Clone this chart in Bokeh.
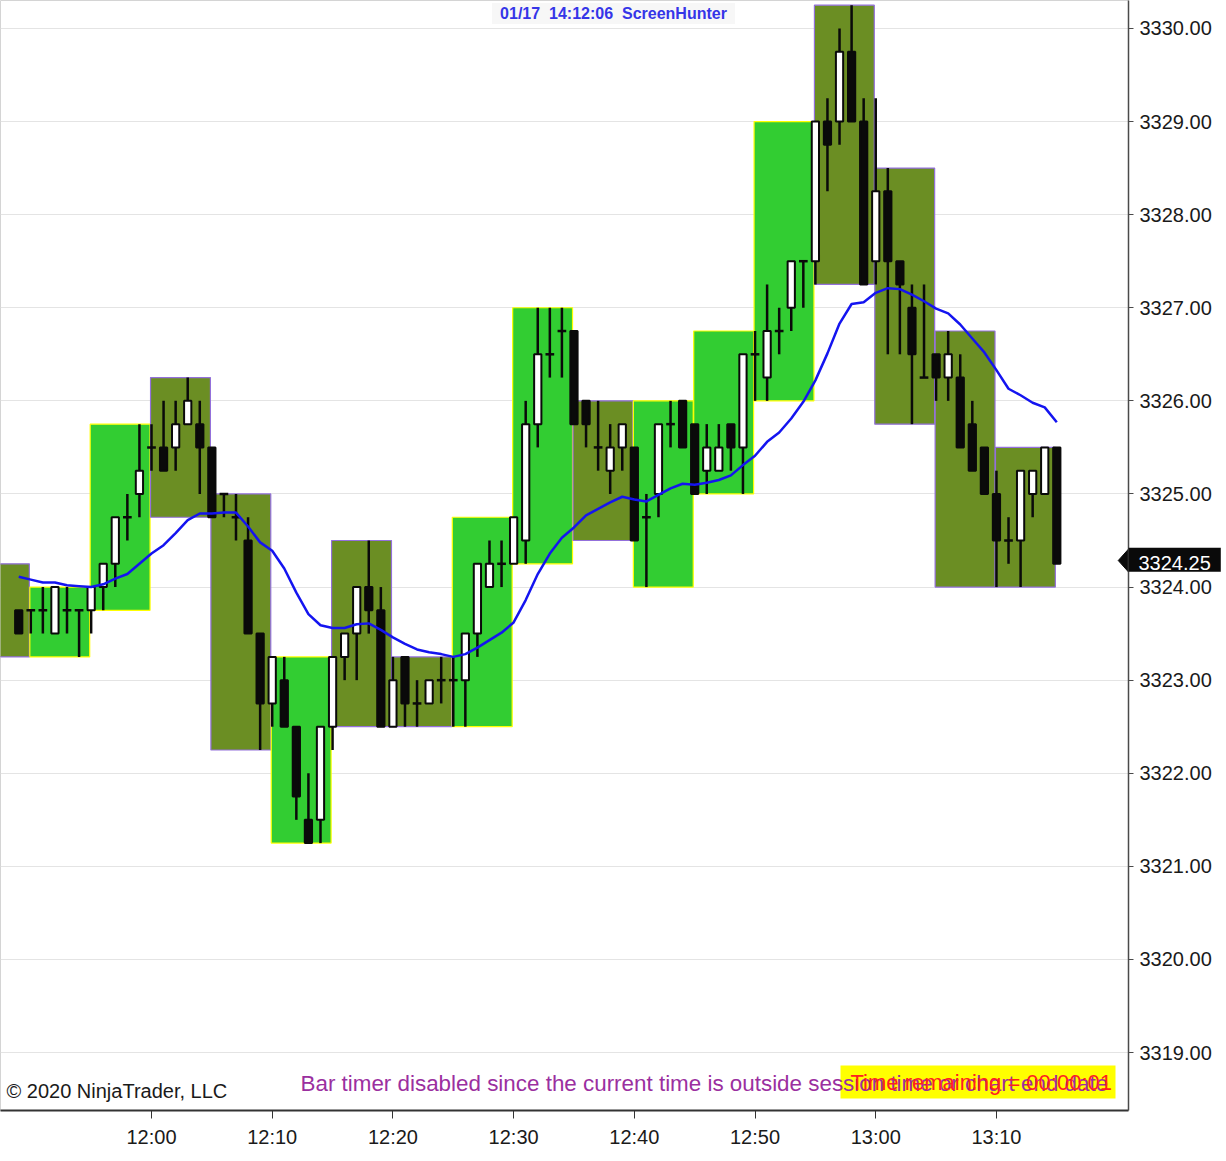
from bokeh.plotting import figure
from bokeh.models import FixedTicker, PrintfTickFormatter, Label, BoxAnnotation, Range1d
from bokeh.embed import file_html
from bokeh.resources import INLINE

# ---------------- data (1-minute candles) ----------------
times = ["11:49", "11:50", "11:51", "11:52", "11:53", "11:54", "11:55", "11:56", "11:57", "11:58", "11:59",
         "12:00", "12:01", "12:02", "12:03", "12:04", "12:05", "12:06", "12:07", "12:08", "12:09",
         "12:10", "12:11", "12:12", "12:13", "12:14", "12:15", "12:16", "12:17", "12:18", "12:19",
         "12:20", "12:21", "12:22", "12:23", "12:24", "12:25", "12:26", "12:27", "12:28", "12:29",
         "12:30", "12:31", "12:32", "12:33", "12:34", "12:35", "12:36", "12:37", "12:38", "12:39",
         "12:40", "12:41", "12:42", "12:43", "12:44", "12:45", "12:46", "12:47", "12:48", "12:49",
         "12:50", "12:51", "12:52", "12:53", "12:54", "12:55", "12:56", "12:57", "12:58", "12:59",
         "13:00", "13:01", "13:02", "13:03", "13:04", "13:05", "13:06", "13:07", "13:08", "13:09",
         "13:10", "13:11", "13:12", "13:13", "13:14", "13:15"]

opens = [3323.75, 3323.75, 3323.75, 3323.5, 3323.75, 3323.75, 3323.75, 3324.0, 3324.25, 3324.75, 3325.0,
         3325.5, 3325.5, 3325.5, 3325.75, 3325.75, 3325.5, 3325.0, 3324.75, 3324.5, 3323.5,
         3322.75, 3323.0, 3322.5, 3321.5, 3321.5, 3322.5, 3323.25, 3323.5, 3324.0, 3323.75,
         3322.5, 3323.25, 3322.75, 3322.75, 3323.0, 3323.0, 3323.0, 3323.5, 3324.0, 3324.25,
         3324.25, 3324.5, 3325.75, 3326.5, 3326.75, 3326.75, 3326.0, 3325.5, 3325.25, 3325.5,
         3325.5, 3324.75, 3325.0, 3325.75, 3326.0, 3325.75, 3325.25, 3325.25, 3325.75, 3325.5,
         3326.5, 3326.25, 3326.75, 3327.0, 3327.5, 3327.5, 3329.0, 3329.0, 3329.75, 3329.0,
         3327.5, 3328.25, 3327.5, 3327.0, 3326.25, 3326.5, 3326.25, 3326.25, 3325.75, 3325.5,
         3325.0, 3324.5, 3324.5, 3325.0, 3325.0, 3325.5]

highs = [3323.75, 3323.75, 3324.0, 3324.0, 3324.0, 3323.75, 3324.0, 3324.25, 3324.75, 3325.0, 3325.75,
         3325.75, 3326.0, 3326.0, 3326.25, 3326.0, 3325.5, 3325.0, 3325.0, 3324.75, 3323.5,
         3323.25, 3323.25, 3322.5, 3322.0, 3322.5, 3323.25, 3323.5, 3324.0, 3324.5, 3324.0,
         3323.25, 3323.25, 3323.0, 3323.0, 3323.25, 3323.25, 3323.5, 3324.25, 3324.5, 3324.5,
         3324.75, 3326.0, 3327.0, 3327.0, 3327.0, 3326.75, 3326.0, 3326.0, 3325.75, 3325.75,
         3325.5, 3325.0, 3325.75, 3326.0, 3326.0, 3325.75, 3325.75, 3325.75, 3325.75, 3326.5,
         3326.75, 3327.25, 3327.0, 3327.5, 3327.5, 3329.0, 3329.25, 3330.0, 3330.25, 3329.25,
         3329.25, 3328.5, 3327.5, 3327.25, 3327.25, 3326.5, 3326.75, 3326.5, 3326.0, 3325.5,
         3325.25, 3324.75, 3325.25, 3325.25, 3325.5, 3325.5]

lows = [3323.5, 3323.5, 3323.5, 3323.5, 3323.5, 3323.25, 3323.5, 3323.75, 3324.0, 3324.5, 3324.75,
        3325.25, 3325.25, 3325.25, 3325.75, 3325.0, 3324.75, 3324.75, 3324.5, 3323.5, 3322.25,
        3322.5, 3322.5, 3321.5, 3321.25, 3321.25, 3322.25, 3323.0, 3323.0, 3323.5, 3322.5,
        3322.5, 3322.5, 3322.5, 3322.75, 3322.75, 3322.5, 3322.5, 3323.25, 3324.0, 3324.0,
        3324.25, 3324.25, 3325.5, 3326.25, 3326.25, 3325.75, 3325.5, 3325.25, 3325.0, 3325.25,
        3324.5, 3324.0, 3324.75, 3325.5, 3325.5, 3325.0, 3325.0, 3325.25, 3325.25, 3325.0,
        3326.0, 3326.0, 3326.5, 3326.75, 3327.0, 3327.25, 3328.25, 3328.75, 3329.0, 3327.25,
        3327.25, 3326.5, 3326.5, 3325.75, 3326.25, 3326.0, 3326.0, 3325.5, 3325.25, 3325.0,
        3324.0, 3324.25, 3324.0, 3324.75, 3325.0, 3324.25]

closes = [3323.5, 3323.75, 3323.75, 3324.0, 3323.75, 3323.75, 3324.0, 3324.25, 3324.75, 3324.75, 3325.25,
          3325.5, 3325.25, 3325.75, 3326.0, 3325.5, 3324.75, 3325.0, 3324.75, 3323.5, 3322.75,
          3323.25, 3322.5, 3321.75, 3321.25, 3322.5, 3323.25, 3323.5, 3324.0, 3323.75, 3322.5,
          3323.0, 3322.75, 3322.75, 3323.0, 3323.0, 3323.0, 3323.5, 3324.25, 3324.25, 3324.25,
          3324.75, 3325.75, 3326.5, 3326.5, 3326.75, 3325.75, 3325.75, 3325.5, 3325.5, 3325.75,
          3324.5, 3324.75, 3325.75, 3325.75, 3325.5, 3325.0, 3325.5, 3325.5, 3325.5, 3326.5,
          3326.5, 3326.75, 3326.75, 3327.5, 3327.5, 3329.0, 3328.75, 3329.75, 3329.0, 3327.25,
          3328.25, 3327.5, 3327.25, 3326.5, 3326.25, 3326.25, 3326.5, 3325.5, 3325.25, 3325.0,
          3324.5, 3324.5, 3325.25, 3325.25, 3325.5, 3324.25]

sma = [3324.11, 3324.08, 3324.05, 3324.05, 3324.02, 3324.01, 3324.00, 3324.03, 3324.09, 3324.14, 3324.25,
       3324.36, 3324.45, 3324.58, 3324.72, 3324.79, 3324.79, 3324.80, 3324.80, 3324.65, 3324.48,
       3324.39, 3324.20, 3323.94, 3323.71, 3323.59, 3323.56, 3323.56, 3323.60, 3323.61, 3323.54,
       3323.46, 3323.39, 3323.33, 3323.30, 3323.28, 3323.25, 3323.28, 3323.35, 3323.43, 3323.51,
       3323.62, 3323.86, 3324.14, 3324.36, 3324.53, 3324.64, 3324.77, 3324.84, 3324.91, 3324.97,
       3324.94, 3324.92, 3324.99, 3325.06, 3325.11, 3325.10, 3325.12, 3325.15, 3325.20, 3325.31,
       3325.41, 3325.56, 3325.66, 3325.81, 3325.99, 3326.22, 3326.51, 3326.83, 3327.04, 3327.06,
       3327.16, 3327.21, 3327.20, 3327.14, 3327.07, 3326.99, 3326.94, 3326.82, 3326.67, 3326.52,
       3326.33, 3326.13, 3326.06, 3325.98, 3325.93, 3325.77]

# ---------------- data (5-minute bars drawn as boxes) ----------------
box_end = ["11:50", "11:55", "12:00", "12:05", "12:10", "12:15", "12:20", "12:25", "12:30",
           "12:35", "12:40", "12:45", "12:50", "12:55", "13:00", "13:05", "13:10", "13:15"]
box_high = [3324.25, 3324.0, 3325.75, 3326.25, 3325.0, 3323.25, 3324.5, 3323.25, 3324.75,
            3327.0, 3326.0, 3326.0, 3326.75, 3329.0, 3330.25, 3328.5, 3326.75, 3325.5]
box_low = [3323.25, 3323.25, 3323.75, 3324.75, 3322.25, 3321.25, 3322.5, 3322.5, 3322.5,
           3324.25, 3324.5, 3324.0, 3325.0, 3326.0, 3327.25, 3325.75, 3324.0, 3324.0]
box_dir = ["down", "up", "up", "down", "down", "up", "down", "down", "up",
           "up", "down", "up", "up", "up", "down", "down", "down", "down"]

x_tick_labels = ["12:00", "12:10", "12:20", "12:30", "12:40", "12:50", "13:00", "13:10"]
y_ticks = [3319, 3320, 3321, 3322, 3323, 3324, 3325, 3326, 3327, 3328, 3329, 3330]


def minutes(s):
    h, m = s.split(":")
    return int(h) * 60 + int(m)


xs = [minutes(t) for t in times]

UP_FILL, DOWN_FILL = "#32CD32", "#6B8E23"
UP_LINE, DOWN_LINE = "#FFFF00", "#9370DB"
FONT = "Liberation Sans"

x_range = Range1d(707.49, 800.94)
y_range = Range1d(3318.378, 3330.30)

p = figure(frame_width=1128, frame_height=1110, x_range=x_range, y_range=y_range,
           y_axis_location="right", output_backend="svg", toolbar_location=None,
           min_border_left=0, min_border_top=0, min_border_right=90, min_border_bottom=43,
           background_fill_color="white", border_fill_color="white",
           outline_line_color="#d4d4d4", outline_line_width=1)

# 5-minute boxes
p.quad(left=[minutes(t) - 5 - 0.08 for t in box_end],
       right=[minutes(t) - 0.12 for t in box_end],
       top=box_high, bottom=box_low,
       fill_color=[UP_FILL if d == "up" else DOWN_FILL for d in box_dir],
       line_color=[UP_LINE if d == "up" else DOWN_LINE for d in box_dir],
       line_width=1.2)

# wicks
p.segment(x0=xs, y0=lows, x1=xs, y1=highs, line_color="#0a0a0a", line_width=2.5)

# bodies
bi = [i for i in range(len(xs)) if opens[i] != closes[i]]
p.vbar(x=[xs[i] for i in bi], width=0.6,
       top=[max(opens[i], closes[i]) for i in bi],
       bottom=[min(opens[i], closes[i]) for i in bi],
       fill_color=["white" if closes[i] > opens[i] else "#0a0a0a" for i in bi],
       line_color="#0a0a0a", line_width=2)

# doji bars
di = [i for i in range(len(xs)) if opens[i] == closes[i]]
p.segment(x0=[xs[i] - 0.36 for i in di], x1=[xs[i] + 0.36 for i in di],
          y0=[opens[i] for i in di], y1=[opens[i] for i in di],
          line_color="#0a0a0a", line_width=2.5)

# moving average
p.line(xs, sma, line_color="#1414F0", line_width=2.5)

# axes
p.yaxis.ticker = FixedTicker(ticks=y_ticks)
p.yaxis.formatter = PrintfTickFormatter(format="%.2f")
p.yaxis.major_label_text_font = FONT
p.yaxis.major_label_text_font_size = "20px"
p.yaxis.major_label_text_color = "#1a1a1a"
p.yaxis.axis_line_color = "#4a4a4a"
p.yaxis.axis_line_width = 1.5
p.yaxis.major_tick_line_color = "#4a4a4a"
p.yaxis.major_tick_out = 5
p.yaxis.major_tick_in = 0
p.yaxis.minor_tick_line_color = None
p.yaxis.major_label_standoff = 6

xt = [minutes(s) for s in x_tick_labels]
p.xaxis.ticker = FixedTicker(ticks=xt)
p.xaxis.major_label_overrides = {v: s for v, s in zip(xt, x_tick_labels)}
p.xaxis.major_label_text_font = FONT
p.xaxis.major_label_text_font_size = "20px"
p.xaxis.major_label_text_color = "#1a1a1a"
p.xaxis.axis_line_color = "#333333"
p.xaxis.axis_line_width = 2
p.xaxis.major_tick_line_color = "#333333"
p.xaxis.major_tick_out = 8
p.xaxis.major_tick_in = 0
p.xaxis.minor_tick_line_color = None
p.xaxis.major_label_standoff = 7

p.xgrid.visible = False
p.ygrid.ticker = FixedTicker(ticks=y_ticks)
p.ygrid.grid_line_color = "#e4e4e4"
p.ygrid.grid_line_width = 1

# current price marker (tip inside the frame, box over the price axis)
last = closes[-1]
p.patch(x=[x_range.end - 0.85, x_range.end + 0.05, x_range.end + 0.05],
        y=[last + 0.035, last + 0.165, last - 0.095], color="#0a0a0a")
p.add_layout(Label(x=x_range.end, y=last, y_offset=4, text=f"{last:.2f}", text_font=FONT,
                   text_font_size="20px", text_color="white", text_align="left",
                   text_baseline="middle", background_fill_color="#0a0a0a",
                   padding=(10, 10, 8, 2)), "right")

# overlay texts
p.add_layout(Label(x=613, y=1097, x_units="screen", y_units="screen",
                   text="01/17\u00a0\u00a014:12:06\u00a0\u00a0ScreenHunter", text_font=FONT,
                   text_font_size="16px", text_font_style="bold", text_color="#3535e8",
                   text_align="center", text_baseline="middle",
                   background_fill_color="#f7f7f7", padding=(8, 8, 2, 2)))

p.add_layout(Label(x=6, y=20, x_units="screen", y_units="screen",
                   text="\u00a9 2020 NinjaTrader, LLC", text_font=FONT,
                   text_font_size="20px", text_color="#1a1a1a",
                   text_align="left", text_baseline="middle"))

p.add_layout(BoxAnnotation(left=840, right=1115, top=45, bottom=12,
                           left_units="screen", right_units="screen",
                           top_units="screen", bottom_units="screen",
                           fill_color="#FFFF00", fill_alpha=1.0, line_alpha=0))

p.add_layout(Label(x=300, y=27, x_units="screen", y_units="screen",
                   text="Bar timer disabled since the current time is outside session time or chart end date",
                   text_font=FONT, text_font_size="22.4px", text_color="#9b2f9f",
                   text_align="left", text_baseline="middle"))

p.add_layout(Label(x=850, y=28, x_units="screen", y_units="screen",
                   text="Time remaining = 00:00:01",
                   text_font=FONT, text_font_size="22px", text_color="#ff2020",
                   text_align="left", text_baseline="middle"))

open("out.html", "w").write(file_html(p, INLINE))
